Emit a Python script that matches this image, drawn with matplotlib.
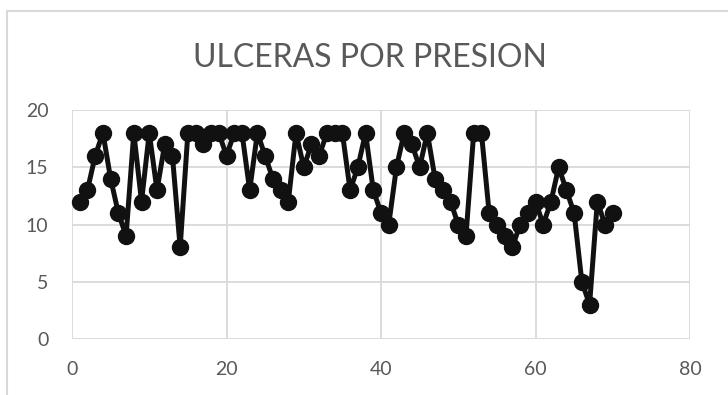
import matplotlib.pyplot as plt
from matplotlib.patches import Rectangle

# ulceras por presion, una medida por dia
dias = list(range(1, 71))
ulceras = [12, 13, 16, 18, 14, 11, 9, 18, 12, 18,
           13, 17, 16, 8, 18, 18, 17, 18, 18, 16,
           18, 18, 13, 18, 16, 14, 13, 12, 18, 15,
           17, 16, 18, 18, 18, 13, 15, 18, 13, 11,
           10, 15, 18, 17, 15, 18, 14, 13, 12, 10,
           9, 18, 18, 11, 10, 9, 8, 10, 11, 12,
           10, 12, 15, 13, 11, 5, 3, 12, 10, 11]
xticks = [0, 20, 40, 60, 80]
yticks = [0, 5, 10, 15, 20]

plt.rcParams['font.family'] = ['Lato', 'DejaVu Sans']
gris = "#595959"
grid_c = "#d9d9d9"

fig = plt.figure(figsize=(7.28, 3.95), dpi=100)
ax = fig.add_axes([72 / 728, 1 - 339 / 395, (690 - 72) / 728, (339 - 110) / 395])

# marco exterior del grafico
fig.patches.append(Rectangle((7 / 728, -0.05), 1.1, 1 - 11 / 395 + 0.05,
                             transform=fig.transFigure, fill=False,
                             edgecolor=grid_c, linewidth=1.5))

ax.plot(dias, ulceras, color="#111111", linewidth=3.6, marker="o",
        markersize=11.5, markerfacecolor="#111111", markeredgecolor="#111111",
        clip_on=False, zorder=3)

ax.set_xlim(0, 80)
ax.set_ylim(0, 20)
ax.set_xticks(xticks)
ax.set_yticks(yticks)
ax.grid(True, color=grid_c, linewidth=1.3)
ax.set_axisbelow(True)
for s in ax.spines.values():
    s.set_visible(False)
ax.tick_params(length=0, colors=gris, labelsize=14)
ax.tick_params(axis="y", pad=17)
ax.tick_params(axis="x", pad=16)

fig.text(370 / 728, 1 - 58 / 395, "ULCERAS POR PRESION", ha="center", va="center",
         fontsize=23, color=gris, fontweight="normal")

fig.savefig("out.png", dpi=100)
